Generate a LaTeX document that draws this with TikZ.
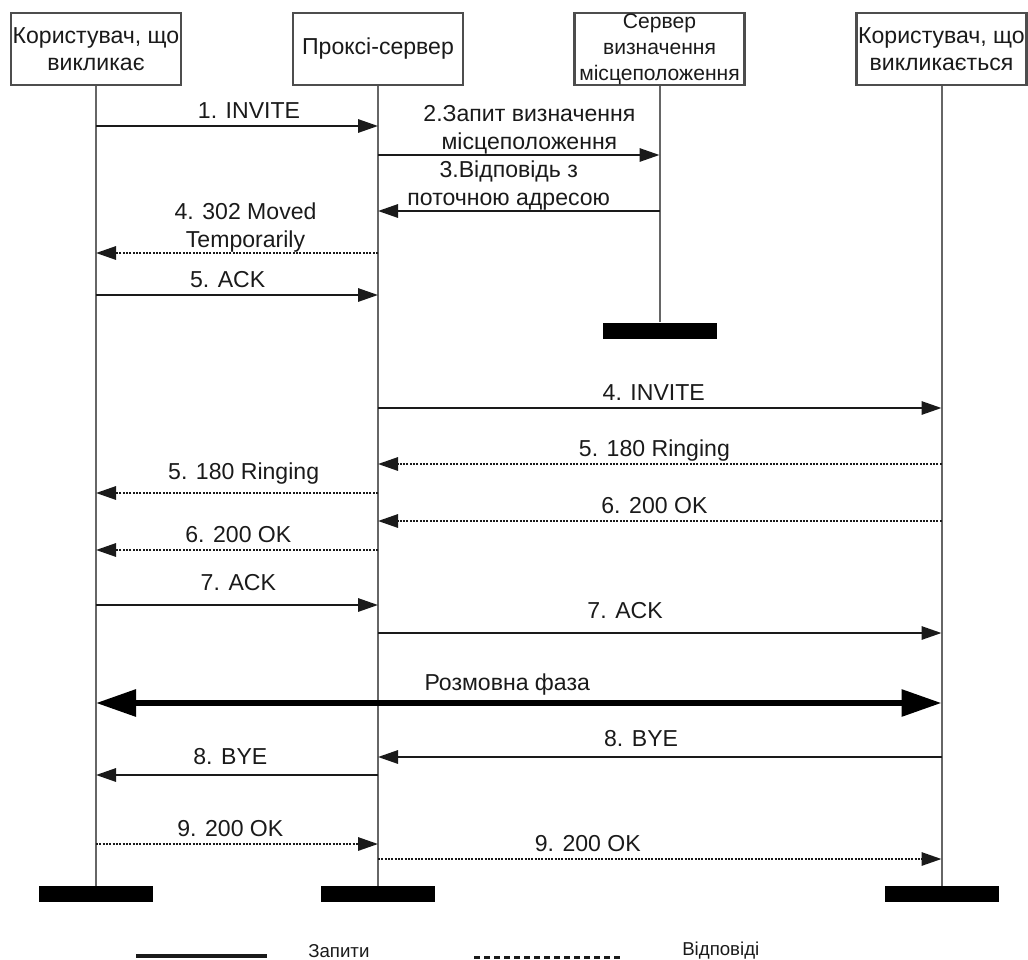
\documentclass[tikz,border=0pt]{standalone}
\usepackage{fontspec}
\setmainfont{Liberation Sans}
\usetikzlibrary{arrows.meta}
\definecolor{edge}{HTML}{4D4D4D}
\definecolor{life}{HTML}{666666}
\definecolor{ink}{HTML}{1A1A1A}
\tikzset{
  party/.style={draw=edge, line width=1.8pt, fill=white, minimum width=127.5pt, minimum height=54pt, inner sep=0.5pt, align=center, font=\fontsize{17.3}{20.5}\selectfont, text=ink},
  bar/.style={fill=black, minimum width=85.5pt, minimum height=12pt, inner sep=0pt},
  life/.style={draw=life, line width=1.5pt},
  req/.style={draw=ink, line width=1.5pt, -{Triangle[length=15pt,width=10pt]}},
  resp/.style={req, dash pattern=on 1.5pt off 1pt},
  talk/.style={draw=black, line width=4.5pt, {Triangle[length=30pt,width=19.5pt]}-{Triangle[length=30pt,width=19.5pt]}},
  lbl/.style={above=1.5pt, inner sep=0pt, text height=12.4pt, text depth=3.5pt, font=\fontsize{17.3}{21}\selectfont, text=ink, align=center},
  lbltwo/.style={lbl, above=-1.8pt},
  legendtxt/.style={anchor=west, inner sep=0pt, font=\fontsize{14}{16}\selectfont, text=ink},
}
\begin{document}
\begin{tikzpicture}[x=0.75pt,y=-0.75pt]
\useasboundingbox (0,0) rectangle (1028,960);
% parties
\node[party] (caller) at (96,49) {Користувач, що\\викликає};
\node[party] (proxy) at (378,49) {Проксі-сервер};
\node[party, font=\fontsize{15.8}{19.5}\selectfont] (locsrv) at (659.5,49) {Сервер\\визначення\\місцеположення};
\node[party] (callee) at (941.5,49) {Користувач, що\\викликається};
% lifeline ends
\node[bar] (callerend) at (96,894) {};
\node[bar] (proxyend) at (378,894) {};
\node[bar] (locend) at (659.5,330.5) {};
\node[bar] (calleeend) at (941.5,894) {};
\draw[life] (caller.south) -- (callerend.north);
\draw[life] (proxy.south) -- (proxyend.north);
\draw[life] (locsrv.south) -- (locend.north);
\draw[life] (callee.south) -- (calleeend.north);
% redirect
\draw[req] (caller |- 0,126) -- node[lbl, xshift=9pt] {1. INVITE} (proxy |- 0,126);
\draw[req] (proxy |- 0,155) -- node[lbltwo, xshift=8pt] {2.Запит визначення\\місцеположення} (locsrv |- 0,155);
\draw[req] (locsrv |- 0,211) -- node[lbltwo, xshift=-7.5pt] {3.Відповідь з\\поточною адресою} (proxy |- 0,211);
\draw[resp] (proxy |- 0,253) -- node[lbltwo, xshift=6.4pt] {4. 302 Moved\\Temporarily} (caller |- 0,253);
\draw[req] (caller |- 0,295) -- node[lbl, xshift=-7pt] {5. ACK} (proxy |- 0,295);
% call setup
\draw[req] (proxy |- 0,408) -- node[lbl, xshift=-4.5pt] {4. INVITE} (callee |- 0,408);
\draw[resp] (callee |- 0,464) -- node[lbl, xshift=-4pt] {5. 180 Ringing} (proxy |- 0,464);
\draw[resp] (proxy |- 0,493) -- node[lbl, above=4.5pt, xshift=5pt] {5. 180 Ringing} (caller |- 0,493);
\draw[resp] (callee |- 0,521) -- node[lbl, xshift=-4pt] {6. 200 OK} (proxy |- 0,521);
\draw[resp] (proxy |- 0,550) -- node[lbl, xshift=1pt] {6. 200 OK} (caller |- 0,550);
\draw[req] (caller |- 0,605) -- node[lbl, above=5.5pt, xshift=1pt] {7. ACK} (proxy |- 0,605);
\draw[req] (proxy |- 0,633) -- node[lbl, above=5.5pt, xshift=-26pt] {7. ACK} (callee |- 0,633);
% conversation and teardown
\draw[talk] (caller |- 0,703) -- node[lbl, above=2.5pt, xshift=-8.6pt] {Розмовна фаза} (callee |- 0,703);
\draw[req] (callee |- 0,757) -- node[lbl, above=2.5pt, xshift=-14pt] {8. BYE} (proxy |- 0,757);
\draw[req] (proxy |- 0,775) -- node[lbl, above=2.5pt, xshift=-5pt] {8. BYE} (caller |- 0,775);
\draw[resp] (caller |- 0,844) -- node[lbl, xshift=-5pt] {9. 200 OK} (proxy |- 0,844);
\draw[resp] (proxy |- 0,859) -- node[lbl, xshift=-54pt] {9. 200 OK} (callee |- 0,859);
% legend
\coordinate (reqa) at (136,956);
\coordinate (reqb) at (267,956);
\draw[ink, line width=3pt] (reqa) -- (reqb);
\node[legendtxt] (reqtxt) at (308,951) {Запити};
\coordinate (respa) at (474,957);
\coordinate (respb) at (620,957);
\draw[ink, line width=2.25pt, dash pattern=on 4.5pt off 3pt] (respa) -- (respb);
\node[legendtxt] (resptxt) at (682,951) {Відповіді};
\end{tikzpicture}
\end{document}
